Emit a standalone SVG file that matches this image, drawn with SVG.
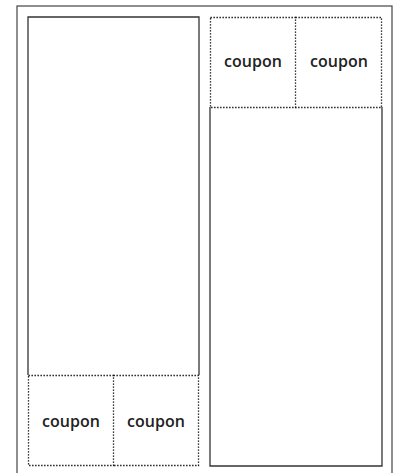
<svg xmlns="http://www.w3.org/2000/svg" width="393" height="473" viewBox="0 0 393 473">
<style>
.frame{fill:none;stroke:#444;stroke-width:1.2}
.panel{fill:none;stroke:#333;stroke-width:1.3}
.coupon{fill:none;stroke:#000;stroke-width:1.3;stroke-dasharray:1.3 1.7}
.lbl{font-family:"Open Sans","Noto Sans",sans-serif;font-weight:600;font-size:16px;fill:#222;text-anchor:middle;dominant-baseline:central}
</style>
<rect width="393" height="473" fill="#fff"/>
<g id="page"><rect class="frame" x="17" y="6" width="375" height="480"/></g>
<g id="left-panel"><path class="panel" d="M28 375 V17 H199 V375"/></g>
<g id="right-panel"><path class="panel" d="M210 107 V466 H382 V107"/></g>
<g id="coupon-bl"><rect class="coupon" x="28.5" y="375.5" width="85" height="90"/><text class="lbl" x="71" y="421">coupon</text></g>
<g id="coupon-br"><path class="coupon" d="M113.5 375.5 H198.5 V465.5 H113.5"/><text class="lbl" x="156" y="421">coupon</text></g>
<g id="coupon-tl"><rect class="coupon" x="210.5" y="17.5" width="85" height="90"/><text class="lbl" x="253" y="61">coupon</text></g>
<g id="coupon-tr"><path class="coupon" d="M295.5 17.5 H381.5 V107.5 H295.5"/><text class="lbl" x="339" y="61">coupon</text></g>
<g id="connectors"></g>
</svg>
